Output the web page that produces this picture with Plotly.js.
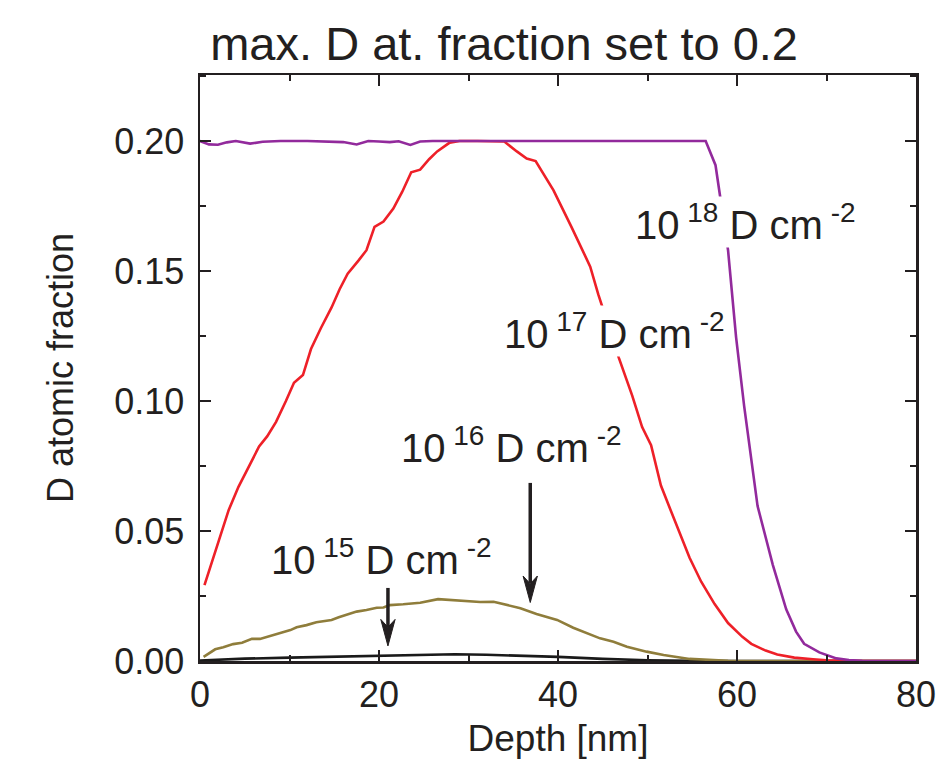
<!DOCTYPE html>
<html>
<head>
<meta charset="utf-8">
<script src="https://cdn.plot.ly/plotly-3.0.1.min.js"></script>
<style>html,body{margin:0;padding:0;background:#fff;}#chart{width:937px;height:773px;}</style>
</head>
<body>
<div id="chart"></div>
<script>
// ---- data ----
var depth18 = [0,1,2,3,4,5.6,7,9,12,14,16,17.5,18.8,20,21.2,22.2,23.5,24.6,26,30,35,40,45,50,56.5,57.6,58.0,59.0,59.9,60.8,62.3,64.0,65.5,66.6,67.5,69.2,71.1,72.5,74,76,80];
var frac18  = [0.2,0.1987,0.1986,0.1995,0.2,0.1990,0.1997,0.2,0.2,0.1998,0.1996,0.1987,0.2,0.1998,0.1996,0.1999,0.1985,0.1998,0.2,0.2,0.2,0.2,0.2,0.2,0.2,0.1907,0.181,0.158,0.1245,0.098,0.0596,0.037,0.0199,0.0113,0.0066,0.0033,0.001,0.0004,0.0001,0,0];

var depth17 = [0.5,2,3.2,4.3,5.5,6.6,7.5,8.5,9.6,10.5,11.5,12.4,13.5,14.7,15.6,16.5,17.7,18.6,19.5,20.5,21.6,22.6,23.6,24.6,25.6,26.5,27.9,29,31,33,34,35.4,36.5,37.5,39.5,41.5,43.6,44.5,46.8,48.3,49.4,50.4,51.5,52.4,53.5,54.7,56.0,57.5,59.0,60.6,61.6,63.2,64.5,66.4,68.5,70,72,75,80];
var frac17  = [0.0292,0.0455,0.058,0.067,0.075,0.0825,0.0864,0.092,0.100,0.107,0.110,0.120,0.128,0.136,0.143,0.149,0.154,0.158,0.167,0.169,0.174,0.1805,0.188,0.189,0.193,0.196,0.1994,0.2,0.2,0.2,0.1998,0.196,0.1933,0.1923,0.181,0.167,0.1517,0.141,0.1166,0.102,0.090,0.083,0.0675,0.0596,0.0503,0.0397,0.0305,0.0219,0.0146,0.0093,0.0066,0.004,0.0025,0.0013,0.0007,0.0003,0.0001,0,0];

var depth16 = [0.4,1.7,2.6,3.7,4.7,5.8,6.7,7.8,8.9,10.1,10.8,11.9,13.0,13.8,14.7,15.5,16.4,17.5,18.6,19.75,20.5,21.2,22.7,24.6,26.6,29.4,31.3,32.8,34.3,35.8,37.6,39.9,41.7,44.7,46.2,47.7,49.9,51.8,54.7,57,59,62,80];
var frac16  = [0.0016,0.0045,0.0053,0.0065,0.007,0.0085,0.0085,0.0096,0.0109,0.0119,0.0130,0.0138,0.0149,0.0154,0.0158,0.0168,0.0177,0.0190,0.0196,0.0205,0.0206,0.0215,0.0218,0.0224,0.0238,0.0232,0.0227,0.0228,0.0215,0.0203,0.0181,0.0158,0.0128,0.0087,0.0074,0.0055,0.0036,0.0023,0.0008,0.0003,0.0001,0,0];

var depth15 = [0,2,5,10,15,20,25,28.5,32,36,40,45,50,55,60,80];
var frac15  = [0.0002,0.0005,0.0009,0.0013,0.0017,0.0021,0.0024,0.0026,0.0024,0.0021,0.0016,0.0008,0.0003,0.0001,0,0];

var seriesNames = ['10^18 D cm^-2','10^17 D cm^-2','10^16 D cm^-2','10^15 D cm^-2'];
var xTickVals = [0,20,40,60,80];
var yTickVals = [0,0.05,0.10,0.15,0.20];

// ---- styling ----
var FONT = 'Arial, "Liberation Sans", Helvetica, sans-serif';
var INK = '#231f20';

var traces = [
  {x: depth15, y: frac15, name: seriesNames[3], mode:'lines', line:{color:'#1a1a1a', width:2.6}},
  {x: depth16, y: frac16, name: seriesNames[2], mode:'lines', line:{color:'#8f7d3b', width:2.6}},
  {x: depth17, y: frac17, name: seriesNames[1], mode:'lines', line:{color:'#ee2028', width:2.6}},
  {x: depth18, y: frac18, name: seriesNames[0], mode:'lines', line:{color:'#922a9c', width:2.6}}
];

function lbl(x, y, exp) {
  return {x:x, y:y, xref:'x', yref:'y', showarrow:false,
    text:'10<sup> '+exp+'</sup> D cm<sup> -2</sup>',
    font:{family:FONT, size:40, color:INK},
    bgcolor:'rgba(255,255,255,1)', borderpad:0, xanchor:'center', yanchor:'middle'};
}

var layout = {
  width:937, height:773,
  margin:{l:200, r:21, t:75, b:112, pad:0},
  paper_bgcolor:'#fff', plot_bgcolor:'#fff',
  showlegend:false,
  font:{family:FONT, color:INK},
  title:{text:'max. D at. fraction set to 0.2', font:{family:FONT, size:47, color:INK},
         x:0.538, xanchor:'center', xref:'container', y:0.944, yanchor:'middle'},
  xaxis:{range:[0,80], tickvals:xTickVals, ticks:'inside', ticklen:11, tickwidth:2, tickcolor:INK,
         minor:{dtick:10, ticks:'inside', ticklen:6, tickwidth:2, tickcolor:INK},
         showline:true, linewidth:2.5, linecolor:INK, mirror:'ticks', showgrid:false, zeroline:false,
         tickfont:{family:FONT, size:36, color:INK},
         title:{text:'Depth [nm]', font:{family:FONT, size:37, color:INK}, standoff:12}},
  yaxis:{range:[0,0.2254], tickvals:yTickVals, tickformat:'.2f', ticks:'inside', ticklen:11, tickwidth:2, tickcolor:INK,
         minor:{dtick:0.025, ticks:'inside', ticklen:6, tickwidth:2, tickcolor:INK},
         showline:true, linewidth:2.5, linecolor:INK, mirror:'ticks', showgrid:false, zeroline:false,
         tickfont:{family:FONT, size:36, color:INK}, ticklabelstandoff:6,
         title:{text:'D atomic fraction', font:{family:FONT, size:36, color:INK}, standoff:30}},
  annotations:[
    lbl(61.0, 0.169, 18),
    lbl(46.3, 0.127, 17),
    lbl(34.8, 0.083, 16),
    lbl(20.3, 0.040, 15)
  ],
  shapes:[
    // arrow for 10^15 label
    {type:'line', xref:'x', yref:'y', x0:21.0, x1:21.0, y0:0.0281, y1:0.0130, line:{color:INK, width:3.5}},
    {type:'path', xref:'x', yref:'y', path:'M21.0,0.0058 L20.2,0.0160 L21.0,0.0130 L21.8,0.0160 Z', fillcolor:INK, line:{color:INK, width:1}},
    // arrow for 10^16 label
    {type:'line', xref:'x', yref:'y', x0:36.9, x1:36.9, y0:0.0685, y1:0.0300, line:{color:INK, width:3.5}},
    {type:'path', xref:'x', yref:'y', path:'M36.9,0.0225 L36.1,0.0327 L36.9,0.0297 L37.7,0.0327 Z', fillcolor:INK, line:{color:INK, width:1}}
  ]
};

Plotly.newPlot('chart', traces, layout, {displayModeBar:false, staticPlot:true});
</script>
</body>
</html>
